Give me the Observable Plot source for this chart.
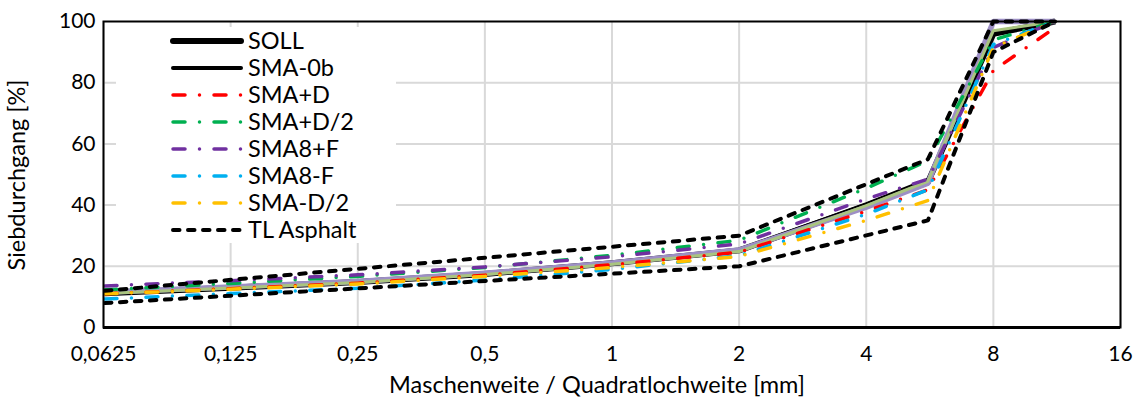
<!DOCTYPE html>
<html>
<head>
<meta charset="utf-8">
<script src="https://cdn.jsdelivr.net/npm/d3@7"></script>
<script src="https://cdn.jsdelivr.net/npm/@observablehq/plot@0.6"></script>
<style>
  html, body { margin: 0; padding: 0; background: #fff; }
  #chart svg { display: block; }
</style>
</head>
<body>
<div id="chart"></div>
<script>
// ---- data ----
const sieves = [0.063, 0.125, 0.25, 0.5, 1, 2, 4, 5.6, 8, 11.2];
const soll    = [11.2, 13.0, 14.9, 17.5, 21.0, 25.2, 39.8, 47.5, 96, 100];
const sma0b   = [11.6, 13.4, 15.2, 17.9, 21.3, 25.6, 40.6, 48.6, 96, 100];
const smaPD   = [11.0, 12.7, 14.5, 17.1, 20.5, 24.6, 38.0, 45.0, 84, 98];
const smaPD2  = [12.3, 14.4, 16.7, 19.6, 23.6, 28.5, 45.5, 54.5, 94, 100];
const sma8PF  = [13.6, 15.3, 17.2, 19.8, 23.1, 27.3, 42.0, 48.5, 91.5, 100];
const sma8MF  = [9.3, 11.1, 12.8, 15.5, 19.0, 23.5, 37.0, 45.0, 92.5, 100];
const smaMD2  = [11.0, 12.5, 14.2, 16.7, 19.6, 23.2, 35.0, 41.5, 91.5, 100];
const extraA  = [11.5, 13.2, 15.0, 17.7, 21.1, 25.3, 39.3, 47.2, 100, 100];
const extraB  = [11.1, 12.9, 14.7, 17.3, 20.7, 24.8, 39.8, 47.8, 97, 100];
const tlSieves = [0.063, 2, 5.6, 8, 11.2];
const tlUpper  = [12, 30, 55, 100, 100];
const tlLower  = [8, 20, 35, 90, 100];

const xTicks = [0.0625, 0.125, 0.25, 0.5, 1, 2, 4, 8, 16];
const xTickLabels = ["0,0625", "0,125", "0,25", "0,5", "1", "2", "4", "8", "16"];
const yTicks = [0, 20, 40, 60, 80, 100];
const yGrid = [20, 40, 60, 80];
const xTitle = "Maschenweite / Quadratlochweite [mm]";
const yTitle = "Siebdurchgang [%]";

const DASHDOT = "12,14.5,0,14.5";
const TLDASH = "6.5,8.5";

const series = [
  {name: "SOLL", xs: sieves, ys: soll, stroke: "#000000", w: 6, dash: null},
  {name: "SMA-0b", xs: sieves, ys: sma0b, stroke: "#000000", w: 2, dash: null, legendW: 4},
  {name: "Reihe A", xs: sieves, ys: extraA, stroke: "#9d8fc5", w: 5.5, dash: null},
  {name: "Reihe B", xs: sieves, ys: extraB, stroke: "#a9c47f", w: 3, dash: null},
  {name: "SMA+D", xs: sieves, ys: smaPD, stroke: "#ff0000", w: 3.5, dash: DASHDOT},
  {name: "SMA+D/2", xs: sieves, ys: smaPD2, stroke: "#00b050", w: 3.5, dash: DASHDOT},
  {name: "SMA8+F", xs: sieves, ys: sma8PF, stroke: "#7030a0", w: 3.5, dash: DASHDOT},
  {name: "SMA8-F", xs: sieves, ys: sma8MF, stroke: "#00b0f0", w: 3.5, dash: DASHDOT},
  {name: "SMA-D/2", xs: sieves, ys: smaMD2, stroke: "#ffc000", w: 3.5, dash: DASHDOT},
  {name: "TL Asphalt", xs: tlSieves, ys: tlUpper, stroke: "#000000", w: 4, dash: TLDASH},
  {name: "TL Asphalt (unten)", xs: tlSieves, ys: tlLower, stroke: "#000000", w: 4, dash: TLDASH}
];

const legendOrder = ["SOLL", "SMA-0b", "SMA+D", "SMA+D/2", "SMA8+F", "SMA8-F", "SMA-D/2", "TL Asphalt"];

const FONT = "Lato, 'Open Sans', sans-serif";
const FS_TICK = 21;
const FS_TEXT = 23.5;

const lineMarks = series.map(s => {
  const rows = s.xs.map((x, i) => ({x, y: s.ys[i]}));
  return Plot.line(rows, {
    x: "x", y: "y",
    stroke: s.stroke, strokeWidth: s.w,
    strokeDasharray: s.dash || undefined,
    strokeLinecap: s.dash ? "round" : "butt",
    strokeLinejoin: "round"
  });
});

const plot = Plot.plot({
  width: 1137,
  height: 401,
  marginLeft: 103,
  marginRight: 17,
  marginTop: 21,
  marginBottom: 74,
  style: {fontFamily: FONT, fontSize: FS_TICK + "px", color: "#000", background: "#fff"},
  x: {type: "log", base: 2, domain: [0.0625, 16], label: null},
  y: {domain: [0, 100], label: null},
  marks: [
    Plot.gridX(xTicks, {stroke: "#d9d9d9", strokeOpacity: 1, strokeWidth: 2}),
    Plot.gridY(yGrid, {stroke: "#d9d9d9", strokeOpacity: 1, strokeWidth: 2}),
    ...lineMarks,
    Plot.frame({stroke: "#000", strokeWidth: 2}),
    Plot.ruleY([0], {stroke: "#000", strokeWidth: 3}),
    Plot.axisX(xTicks, {tickSize: 0, tickPadding: 19, tickFormat: d => xTickLabels[xTicks.indexOf(d)], fontSize: FS_TICK, label: null}),
    Plot.axisY(yTicks, {tickSize: 0, tickPadding: 8, fontSize: FS_TICK, label: null})
  ]
});

document.getElementById("chart").appendChild(plot);

// ---- legend and axis titles (layout) ----
const svg = d3.select(plot);
const lg = svg.append("g").attr("class", "legend").attr("text-anchor", "start");
lg.append("rect").attr("x", 116).attr("y", 27).attr("width", 280).attr("height", 216).attr("fill", "#fff");
legendOrder.forEach((name, i) => {
  const s = series.find(d => d.name === name);
  const y = 41 + 27 * i;
  lg.append("line")
    .attr("x1", 173).attr("x2", 241).attr("y1", y).attr("y2", y)
    .attr("stroke", s.stroke)
    .attr("stroke-width", s.legendW || s.w)
    .attr("stroke-dasharray", s.dash)
    .attr("stroke-linecap", "round");
  lg.append("text")
    .attr("x", 248).attr("y", y).attr("dy", "0.36em")
    .attr("text-anchor", "start")
    .attr("font-family", FONT).attr("font-size", FS_TEXT)
    .attr("fill", "#000")
    .text(name);
});

svg.append("text")
  .attr("x", 597).attr("y", 393)
  .attr("text-anchor", "middle")
  .attr("font-family", FONT).attr("font-size", FS_TEXT)
  .attr("fill", "#000")
  .text(xTitle);

svg.append("text")
  .attr("transform", "translate(25,175) rotate(-90)")
  .attr("text-anchor", "middle")
  .attr("font-family", FONT).attr("font-size", FS_TEXT)
  .attr("fill", "#000")
  .text(yTitle);
</script>
</body>
</html>
